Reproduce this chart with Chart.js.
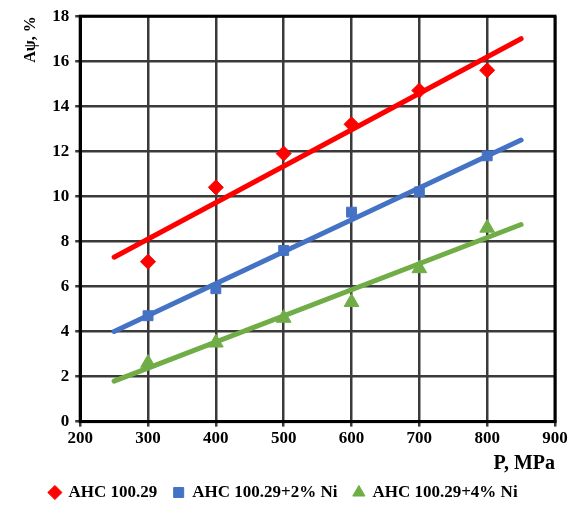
<!DOCTYPE html>
<html>
<head>
<meta charset="utf-8">
<script src="https://cdn.jsdelivr.net/npm/chart.js@4"></script>
<style>
html,body{margin:0;padding:0;background:#fff;}
#wrap{width:579px;height:511px;position:relative;}
</style>
</head>
<body>
<div id="wrap"><canvas id="c"></canvas></div>
<script>
const pressures = [300, 400, 500, 600, 700, 800];
const ahc = [7.1, 10.4, 11.9, 13.2, 14.7, 15.6];
const ahcNi2 = [4.7, 5.9, 7.6, 9.3, 10.2, 11.8];
const ahcNi4 = [2.6, 3.5, 4.6, 5.3, 6.8, 8.6];
const trendX = [250, 850];
const trendAhc = [7.3, 17.0];
const trendNi2 = [4.0, 12.5];
const trendNi4 = [1.8, 8.75];
const seriesNames = ['AHC 100.29', 'AHC 100.29+2% Ni', 'AHC 100.29+4% Ni'];
const xTitle = 'P, MPa';
const yTitle = 'Aψ, %';

const colors = ['#FF0000', '#4472C4', '#70AD47'];
const pts = (xs, ys) => xs.map((x, i) => ({x: x, y: ys[i]}));
const fam = '"Liberation Serif", "Times New Roman", serif';
const font = {family: fam, weight: 'bold', size: 17};

const datasets = [
  {label: seriesNames[0], data: pts(pressures, ahc), pointStyle: 'rectRot', pointRadius: 7.5, backgroundColor: colors[0], borderColor: colors[0], showLine: false, order: 1},
  {label: seriesNames[1], data: pts(pressures, ahcNi2), pointStyle: 'rect', pointRadius: 7, backgroundColor: colors[1], borderColor: colors[1], showLine: false, order: 1},
  {label: seriesNames[2], data: pts(pressures, ahcNi4), pointStyle: 'triangle', pointRadius: 8.5, backgroundColor: colors[2], borderColor: colors[2], showLine: false, order: 1},
  {label: 'trend1', data: pts(trendX, trendAhc), showLine: true, borderColor: colors[0], borderWidth: 5, pointRadius: 0, order: 2, borderCapStyle: 'round'},
  {label: 'trend2', data: pts(trendX, trendNi2), showLine: true, borderColor: colors[1], borderWidth: 5, pointRadius: 0, order: 2, borderCapStyle: 'round'},
  {label: 'trend3', data: pts(trendX, trendNi4), showLine: true, borderColor: colors[2], borderWidth: 5, pointRadius: 0, order: 2, borderCapStyle: 'round'}
];

new Chart(document.getElementById('c'), {
  type: 'scatter',
  data: {datasets: datasets},
  options: {
    responsive: true,
    maintainAspectRatio: false,
    animation: false,
    layout: {padding: {left: 21, right: 24, top: 8, bottom: 0}},
    plugins: {
      legend: {
        position: 'bottom',
        labels: {
          font: font,
          color: '#000',
          usePointStyle: true,
          boxWidth: 10,
          boxHeight: 10,
          padding: 8,
          filter: (item) => item.datasetIndex < 3,
          generateLabels: (chart) => Chart.defaults.plugins.legend.labels.generateLabels(chart).map(l => Object.assign(l, {text: l.text + '\u2002'}))
        }
      },
      tooltip: {enabled: false}
    },
    scales: {
      x: {
        type: 'linear',
        min: 200, max: 900,
        ticks: {stepSize: 100, font: font, color: '#000', padding: 2},
        grid: {color: '#3a3a3a', lineWidth: 2.5, tickLength: 5, tickColor: '#3a3a3a'},
        border: {color: '#000', width: 3},
        title: {display: true, text: xTitle, align: 'end', font: {family: fam, weight: 'bold', size: 20}, color: '#000', padding: {top: 1, bottom: 0}}
      },
      y: {
        min: 0, max: 18,
        ticks: {stepSize: 2, font: font, color: '#000', padding: 6},
        grid: {color: '#3a3a3a', lineWidth: 2.5, tickLength: 5, tickColor: '#3a3a3a'},
        border: {color: '#000', width: 3},
        title: {display: true, text: yTitle, align: 'end', font: {family: fam, weight: 'bold', size: 16}, color: '#000', padding: {top: 0, bottom: 6}}
      }
    }
  },
  plugins: [{
    id: 'frame',
    afterDraw(chart) {
      const a = chart.chartArea, ctx = chart.ctx;
      ctx.save();
      ctx.strokeStyle = '#000';
      ctx.lineWidth = 3;
      ctx.strokeRect(a.left, a.top, a.right - a.left, a.bottom - a.top);
      ctx.restore();
    }
  }]
});
</script>
</body>
</html>
